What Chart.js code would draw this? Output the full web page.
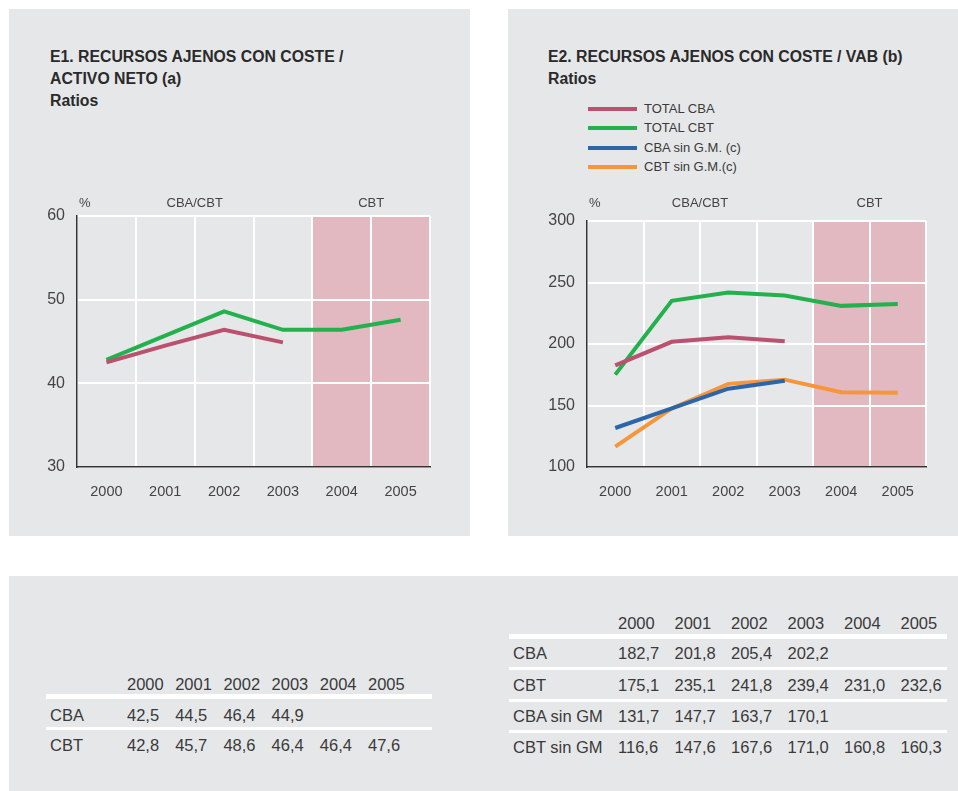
<!DOCTYPE html>
<html>
<head>
<meta charset="utf-8">
<script src="https://cdn.jsdelivr.net/npm/chart.js@4.4.1/dist/chart.umd.min.js"></script>
<style>
  body { margin: 0; width: 958px; height: 791px; background: #fff; position: relative; overflow: hidden;
         font-family: "Liberation Sans", Arial, Helvetica, sans-serif; color: #333; }
  .panel { position: absolute; background: #e6e7e9; }
  .title { position: absolute; font-weight: bold; font-size: 15.8px; line-height: 22px; color: #2a2a2a; white-space: nowrap; }
  .abs { position: absolute; white-space: nowrap; }
  .cell { position: absolute; font-size: 16.5px; line-height: 20px; color: #3a3a3a; white-space: nowrap; }
  .rule { position: absolute; background: #fff; }
  .leg { position: absolute; font-size: 13px; line-height: 16px; color: #3a3a3a; white-space: nowrap; }
  canvas { position: absolute; }
</style>
</head>
<body>
<div class="panel" style="left:9px;top:9px;width:461px;height:527px"></div>
<div class="panel" style="left:508px;top:9px;width:450px;height:527px"></div>
<div class="panel" style="left:9px;top:576px;width:949px;height:215px"></div>

<div class="title" style="left:50px;top:46px">E1. RECURSOS AJENOS CON COSTE /<br>ACTIVO NETO (a)<br>Ratios</div>
<div class="title" style="left:548px;top:46px">E2. RECURSOS AJENOS CON COSTE / VAB (b)<br>Ratios</div>

<div id="legend2"></div>

<div style="position:absolute;left:9px;top:190px;width:461px;height:330px"><canvas id="chart1"></canvas></div>
<div style="position:absolute;left:508px;top:190px;width:450px;height:330px"><canvas id="chart2"></canvas></div>

<div id="table1"></div>
<div id="table2"></div>

<script>
// years on the category axis
const years = ["2000", "2001", "2002", "2003", "2004", "2005"];

// E1 - recursos ajenos con coste / activo neto
const e1CBA = [42.5, 44.5, 46.4, 44.9, null, null];
const e1CBT = [42.8, 45.7, 48.6, 46.4, 46.4, 47.6];
const e1Ticks = [30, 40, 50, 60];

// E2 - recursos ajenos con coste / VAB
const e2Labels = ["TOTAL CBA", "TOTAL CBT", "CBA sin G.M. (c)", "CBT sin G.M.(c)"];
const e2RowNames = ["CBA", "CBT", "CBA sin GM", "CBT sin GM"];
const e2TotalCBA = [182.7, 201.8, 205.4, 202.2, null, null];
const e2TotalCBT = [175.1, 235.1, 241.8, 239.4, 231.0, 232.6];
const e2CBAsinGM = [131.7, 147.7, 163.7, 170.1, null, null];
const e2CBTsinGM = [116.6, 147.6, 167.6, 171.0, 160.8, 160.3];
const e2Ticks = [100, 150, 200, 250, 300];

const colors = ["#bb506f", "#22b14c", "#2c66a8", "#f7953b"];
const bandColor = "#e2b9c0";
const axisColor = "#333";
const tickColor = "#444";
const fontFamily = '"Liberation Sans", Arial, Helvetica, sans-serif';

// pink CBT band + header labels above the plot
const periodPlugin = {
  id: "period",
  beforeDraw(chart) {
    const { ctx, chartArea, scales } = chart;
    const x = scales.x;
    const start = (x.getPixelForValue(3) + x.getPixelForValue(4)) / 2;
    ctx.save();
    ctx.fillStyle = bandColor;
    ctx.fillRect(start, chartArea.top, chartArea.right - start, chartArea.bottom - chartArea.top);
    ctx.restore();
  },
  afterDraw(chart) {
    const { ctx, chartArea, scales } = chart;
    const x = scales.x;
    ctx.save();
    ctx.font = "13px " + fontFamily;
    ctx.fillStyle = tickColor;
    ctx.textBaseline = "middle";
    ctx.textAlign = "left";
    ctx.fillText("%", chartArea.left + 2, 13);
    ctx.textAlign = "center";
    ctx.fillText("CBA/CBT", (x.getPixelForValue(0) + x.getPixelForValue(3)) / 2, 13);
    ctx.fillText("CBT", (x.getPixelForValue(4) + x.getPixelForValue(5)) / 2, 13);
    ctx.restore();
  }
};

function makeChart(id, datasets, ticks, yWidth, pad) {
  return new Chart(document.getElementById(id), {
    type: "line",
    data: {
      labels: years,
      datasets: datasets.map(d => ({
        label: d.label,
        data: d.data,
        borderColor: d.color,
        backgroundColor: d.color,
        borderWidth: 4,
        pointRadius: 0,
        tension: 0,
        spanGaps: false
      }))
    },
    options: {
      responsive: true,
      maintainAspectRatio: false,
      animation: false,
      layout: { padding: { top: pad.top, right: pad.right, left: 0, bottom: 0 } },
      plugins: { legend: { display: false }, tooltip: { enabled: false } },
      scales: {
        x: {
          offset: true,
          grid: { offset: true, color: "#fff", lineWidth: 2, drawTicks: false },
          border: { color: axisColor, width: 1.5 },
          ticks: { color: tickColor, font: { size: 14.5, family: fontFamily }, padding: 16, maxRotation: 0 },
          afterFit(scale) { scale.height = 53; }
        },
        y: {
          min: ticks[0],
          max: ticks[ticks.length - 1],
          afterBuildTicks(scale) { scale.ticks = ticks.map(v => ({ value: v })); },
          grid: { color: "#fff", lineWidth: 2, drawTicks: false },
          border: { color: axisColor, width: 1.5 },
          ticks: { color: tickColor, font: { size: 16, family: fontFamily }, padding: 12 },
          afterFit(scale) { scale.width = yWidth; }
        }
      }
    },
    plugins: [periodPlugin]
  });
}

makeChart("chart1", [
  { label: "CBA", data: e1CBA, color: colors[0] },
  { label: "CBT", data: e1CBT, color: colors[1] }
], e1Ticks, 68, { top: 26, right: 40 });

const e2Series = [e2TotalCBA, e2TotalCBT, e2CBAsinGM, e2CBTsinGM];
makeChart("chart2", e2Series.map((s, i) => ({ label: e2Labels[i], data: s, color: colors[i] })),
  e2Ticks, 79, { top: 31, right: 32 });

// legend for E2
const legend = document.getElementById("legend2");
e2Labels.forEach((name, i) => {
  const y = 109 + i * 19.4;
  legend.insertAdjacentHTML("beforeend",
    `<div class="abs" style="left:588px;top:${y - 2}px;width:49px;height:4px;background:${colors[i]}"></div>` +
    `<div class="leg" style="left:644px;top:${y - 8}px">${name}</div>`);
});

// tables below the charts
const fmt = v => v == null ? "" : v.toFixed(1).replace(".", ",");

function buildTable(el, rows, opt) {
  let html = "";
  years.forEach((y, c) => {
    html += `<div class="cell" style="left:${opt.cols[c]}px;top:${opt.headY - 10}px">${y}</div>`;
  });
  rows.forEach((r, k) => {
    const rule = opt.rules[k];
    html += `<div class="rule" style="left:${opt.x0}px;top:${rule[0]}px;width:${opt.x1 - opt.x0}px;height:${rule[1]}px"></div>`;
    const cy = opt.rowY[k];
    html += `<div class="cell" style="left:${opt.labelX}px;top:${cy - 10}px">${r.name}</div>`;
    r.data.forEach((v, c) => {
      html += `<div class="cell" style="left:${opt.cols[c]}px;top:${cy - 10}px">${fmt(v)}</div>`;
    });
  });
  el.innerHTML = html;
}

buildTable(document.getElementById("table1"), [
  { name: "CBA", data: e1CBA },
  { name: "CBT", data: e1CBT }
], {
  cols: years.map((y, i) => 127 + i * 48.2),
  headY: 684, rowY: [715, 745], labelX: 50, x0: 46, x1: 432,
  rules: [[694, 5], [727, 3]]
});

buildTable(document.getElementById("table2"), e2Series.map((s, i) => ({ name: e2RowNames[i], data: s })), {
  cols: years.map((y, i) => 618 + i * 56.5),
  headY: 623, rowY: [653, 685, 716, 747], labelX: 513, x0: 509, x1: 947,
  rules: [[634, 5], [667, 3], [699, 3], [730, 3]]
});
</script>
</body>
</html>
